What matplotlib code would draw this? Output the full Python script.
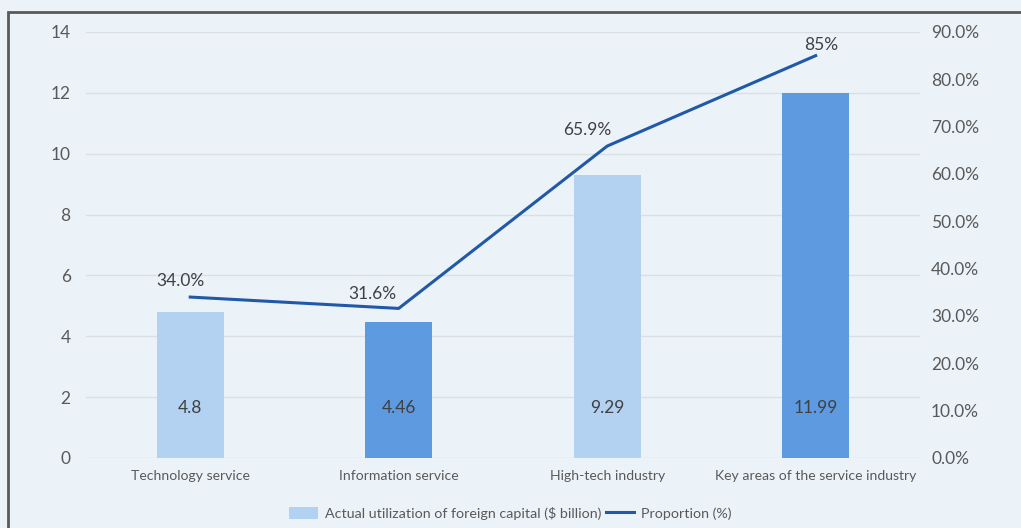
# -*- coding: utf-8 -*-
import matplotlib
matplotlib.use('Agg')
import matplotlib.pyplot as plt
from matplotlib.patches import Rectangle
from matplotlib.ticker import FuncFormatter

categories = ['Technology service', 'Information service',
              'High-tech industry', 'Key areas of the service industry']
capital = [4.8, 4.46, 9.29, 11.99]
capital_labels = ['4.8', '4.46', '9.29', '11.99']
proportion = [34.0, 31.6, 65.9, 85.0]
proportion_labels = ['34.0%', '31.6%', '65.9%', '85%']
# label nudges in pixels (dx, dy), as Excel placed them
label_nudge = [(-10, 16), (-26, 14), (-20, 16), (6, 11)]

light = '#B3D1F0'
dark = '#5E9AE0'
line_col = '#2159A8'
bg = '#EBF3F9'
txt = '#595959'

plt.rcParams['font.family'] = ['Lato', 'DejaVu Sans']

fig = plt.figure(figsize=(10.21, 5.28), dpi=100, facecolor=bg)
ax = fig.add_axes([0.0842, 0.1326, 0.8168, 0.8068])
ax.set_facecolor(bg)

x = list(range(len(categories)))
bar_colors = [light, dark, light, dark]
bars = ax.bar(x, capital, width=0.32, color=bar_colors, zorder=2,
              label='Actual utilization of foreign capital ($ billion)')
for xi, lab in zip(x, capital_labels):
    ax.text(xi, 1.65, lab, ha='center', va='center', fontsize=12.5, color='#404040', zorder=3)

ax.set_xlim(-0.5, 3.5)
ax.set_ylim(0, 14)
ax.set_yticks(range(0, 15, 2))
ax.set_xticks(x)
ax.set_xticklabels(categories, fontsize=10.1, color=txt)
ax.tick_params(axis='x', length=0, pad=9)
ax.tick_params(axis='y', length=0, pad=11, labelsize=12.5, labelcolor=txt)
ax.grid(axis='y', color='#DCDFE2', linewidth=1, zorder=0)
for s in ax.spines.values():
    s.set_visible(False)

ax2 = ax.twinx()
ax2.plot(x, proportion, color=line_col, linewidth=2.2, zorder=4,
         label='Proportion (%)')
for xi, v, lab, (dx, dy) in zip(x, proportion, proportion_labels, label_nudge):
    ax2.annotate(lab, (xi, v), xytext=(dx * 0.72, dy * 0.72), textcoords='offset points',
                 ha='center', va='center', fontsize=12.5, color='#404040')
ax2.set_ylim(0, 90)
ax2.set_yticks(range(0, 91, 10))
ax2.yaxis.set_major_formatter(FuncFormatter(lambda v, p: '%.1f%%' % v))
ax2.tick_params(axis='y', length=0, pad=8, labelsize=12.5, labelcolor=txt)
for s in ax2.spines.values():
    s.set_visible(False)

h1, l1 = ax.get_legend_handles_labels()
h2, l2 = ax2.get_legend_handles_labels()
fig.legend(h1 + h2, l1 + l2, loc='center', bbox_to_anchor=(0.5, 0.028), ncol=2,
           frameon=False, fontsize=10.3, labelcolor=txt, handlelength=2.0,
           handleheight=0.9, columnspacing=0.3, handletextpad=0.5)

# outer border
fig.patches.append(Rectangle((8 / 1021, -0.1), 1.2, (516 / 528) + 0.1,
                             transform=fig.transFigure, fill=False,
                             edgecolor='#595959', linewidth=2))

fig.savefig('out.png', dpi=100, facecolor=bg)
